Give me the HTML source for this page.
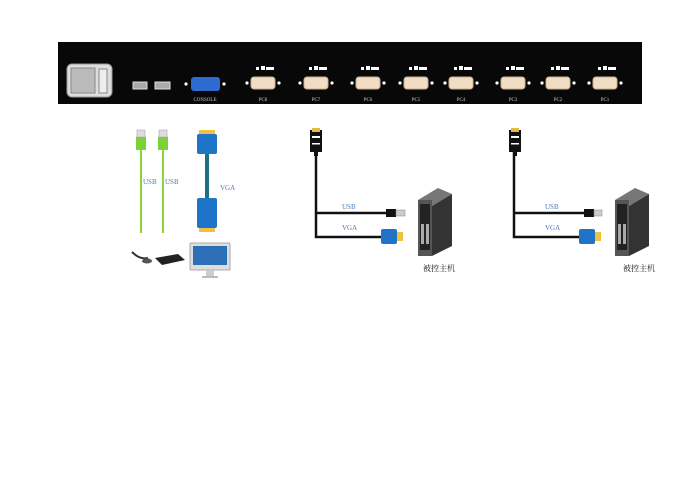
<!DOCTYPE html>
<html><head><meta charset="utf-8"><style>
body{margin:0;background:#fff;width:700px;height:489px;overflow:hidden}
svg text{font-family:"Liberation Serif","Noto Serif CJK SC",serif}
</style></head><body>
<svg width="700" height="489" viewBox="0 0 700 489">
<defs>
<g id="port">
 <circle cx="-16" cy="0" r="1.6" fill="#fff"/><circle cx="16" cy="0" r="1.6" fill="#fff"/>
 <rect x="-12" y="-6" width="24" height="12" rx="3" fill="#f1dcc4" stroke="#c9b090"/>
 <rect x="-7" y="-16" width="3" height="3" fill="#fff"/><rect x="-2" y="-17" width="4" height="4" fill="#fff"/><rect x="3" y="-16" width="8" height="3" fill="#fff"/>
</g>
<g id="host">
 <rect x="0" y="0" width="12" height="22" fill="#111"/>
 <rect x="2" y="-2" width="8" height="4" fill="#e6b94a"/>
 <rect x="2" y="6" width="8" height="2" fill="#fff"/>
 <rect x="2" y="13" width="8" height="1.5" fill="#fff"/>
 <rect x="4" y="22" width="4" height="4" fill="#111"/>
</g>
<g id="server">
 <polygon points="0,12 20,0 34,6 14,18" fill="#777"/>
 <polygon points="14,18 34,6 34,58 14,68" fill="#333"/>
 <rect x="0" y="12" width="14" height="56" fill="#555"/>
 <rect x="2" y="16" width="10" height="46" fill="#222"/>
 <rect x="3" y="36" width="3" height="20" fill="#aaa"/><rect x="8" y="36" width="3" height="20" fill="#aaa"/>
</g>
</defs>
<rect x="58" y="42" width="584" height="62" fill="#080808"/>
<rect x="67" y="64" width="45" height="33" rx="5" fill="#ddd" stroke="#999"/>
<rect x="71" y="68" width="24" height="25" fill="#bbb" stroke="#888"/>
<rect x="99" y="69" width="8" height="24" fill="#eee" stroke="#888"/>
<rect x="133" y="82" width="14" height="7" fill="#aaa" stroke="#ddd"/>
<rect x="155" y="82" width="15" height="7" fill="#aaa" stroke="#ddd"/>
<circle cx="186" cy="84" r="1.6" fill="#fff"/><circle cx="224" cy="84" r="1.6" fill="#fff"/>
<rect x="191" y="77" width="29" height="14" rx="3" fill="#2d6bd1"/>
<text x="205" y="101" font-size="5" fill="#ccc" text-anchor="middle">CONSOLE</text>
<g fill="#ccc" font-size="5" text-anchor="middle">
<use href="#port" x="263" y="83"/><text x="263" y="101">PC8</text>
<use href="#port" x="316" y="83"/><text x="316" y="101">PC7</text>
<use href="#port" x="368" y="83"/><text x="368" y="101">PC6</text>
<use href="#port" x="416" y="83"/><text x="416" y="101">PC5</text>
<use href="#port" x="461" y="83"/><text x="461" y="101">PC4</text>
<use href="#port" x="513" y="83"/><text x="513" y="101">PC3</text>
<use href="#port" x="558" y="83"/><text x="558" y="101">PC2</text>
<use href="#port" x="605" y="83"/><text x="605" y="101">PC1</text>
</g>
<!-- left cables -->
<g stroke="#8bd43a" stroke-width="2"><line x1="141" y1="150" x2="141" y2="233"/><line x1="163" y1="150" x2="163" y2="233"/></g>
<rect x="137" y="130" width="8" height="7" fill="#ddd" stroke="#999" stroke-width=".5"/>
<rect x="136" y="137" width="10" height="13" fill="#7cd13a"/>
<rect x="159" y="130" width="8" height="7" fill="#ddd" stroke="#999" stroke-width=".5"/>
<rect x="158" y="137" width="10" height="13" fill="#7cd13a"/>
<text x="143" y="184" font-size="7" fill="#4a7ab8">USB</text>
<text x="165" y="184" font-size="7" fill="#4a7ab8">USB</text>
<rect x="199" y="130" width="16" height="4" fill="#f0c040"/>
<rect x="197" y="134" width="20" height="20" rx="2" fill="#1f73c8"/>
<rect x="205" y="154" width="4" height="44" fill="#1c7080"/>
<rect x="197" y="198" width="20" height="30" rx="2" fill="#1f73c8"/>
<rect x="199" y="228" width="16" height="4" fill="#f0c040"/>
<text x="220" y="190" font-size="7" fill="#4a7ab8">VGA</text>
<path d="M132 252 Q140 260 148 258" stroke="#333" stroke-width="2" fill="none"/>
<ellipse cx="147" cy="261" rx="5" ry="2.5" fill="#555"/>
<polygon points="155,258 178,254 185,260 162,265" fill="#222"/>
<rect x="190" y="243" width="40" height="27" rx="1" fill="#ddd" stroke="#aaa"/>
<rect x="193" y="246" width="34" height="19" fill="#2a6fb8"/>
<rect x="206" y="270" width="8" height="6" fill="#ccc"/><rect x="202" y="276" width="16" height="2" fill="#bbb"/>
<!-- middle -->
<g stroke="#111" stroke-width="2.5" fill="none"><path d="M316 152 V237 H382"/><path d="M316 213 H386"/></g>
<use href="#host" x="310" y="130"/>
<rect x="386" y="209" width="10" height="8" fill="#111"/><rect x="396" y="210" width="9" height="6" fill="#ccc" stroke="#888" stroke-width=".5"/>
<rect x="381" y="229" width="16" height="15" rx="2" fill="#1f73c8"/><rect x="397" y="232" width="6" height="9" fill="#f0c040"/>
<text x="342" y="209" font-size="7" fill="#4a7ab8">USB</text>
<text x="342" y="230" font-size="7" fill="#4a7ab8">VGA</text>
<use href="#server" x="418" y="188"/>
<text x="423" y="271" font-size="8" fill="#111">被控主机</text>
<!-- right -->
<g stroke="#111" stroke-width="2.5" fill="none"><path d="M514 152 V237 H580"/><path d="M514 213 H584"/></g>
<use href="#host" x="509" y="130"/>
<rect x="584" y="209" width="10" height="8" fill="#111"/><rect x="594" y="210" width="8" height="6" fill="#ccc" stroke="#888" stroke-width=".5"/>
<rect x="579" y="229" width="16" height="15" rx="2" fill="#1f73c8"/><rect x="595" y="232" width="6" height="9" fill="#f0c040"/>
<text x="545" y="209" font-size="7" fill="#4a7ab8">USB</text>
<text x="545" y="230" font-size="7" fill="#4a7ab8">VGA</text>
<use href="#server" x="615" y="188"/>
<text x="623" y="271" font-size="8" fill="#111">被控主机</text>
</svg>
</body></html>
